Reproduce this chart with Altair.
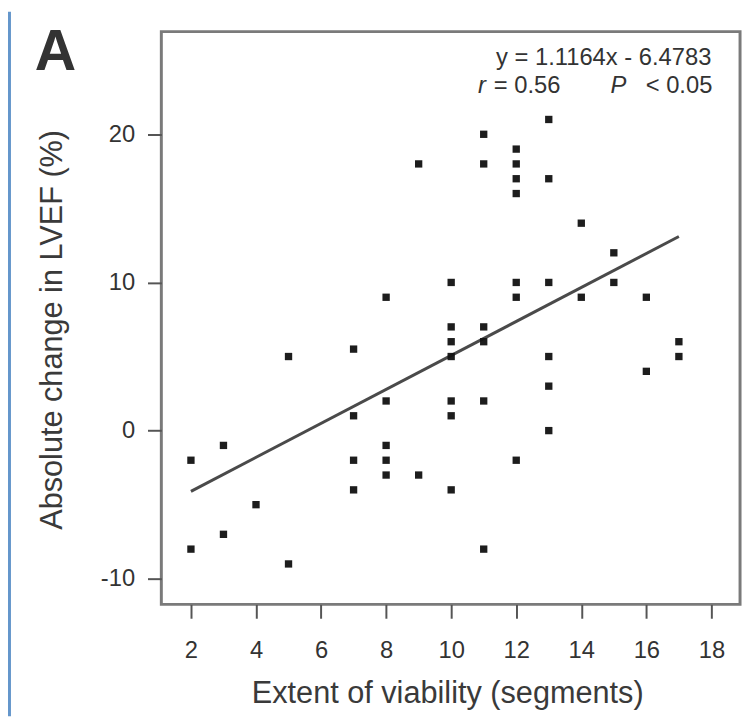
import altair as alt
import pandas as pd

# Scatter data
viab_x = [2, 2, 3, 3, 4, 5, 5, 7, 7, 7, 7, 8, 8, 8, 8, 8, 9, 9,
          10, 10, 10, 10, 10, 10, 10, 11, 11, 11, 11, 11, 11,
          12, 12, 12, 12, 12, 12, 12, 13, 13, 13, 13, 13, 13,
          14, 14, 15, 15, 16, 16, 17, 17]
lvef_y = [-2, -8, -1, -7, -5, 5, -9, 5.5, 1, -2, -4, 9, 2, -1, -2, -3, 18, -3,
          10, 7, 6, 5, 2, 1, -4, 20, 18, 7, 6, 2, -8,
          19, 18, 17, 16, 10, 9, -2, 21, 17, 10, 5, 3, 0,
          14, 9, 12, 10, 9, 4, 6, 5]

# Fitted line end points
fit_x = [2, 17]
fit_y = [-4.1, 13.1]

x_ticks = [2, 4, 6, 8, 10, 12, 14, 16, 18]
y_ticks = [-10, 0, 10, 20]

FONT = "Liberation Sans, Arial, Helvetica, sans-serif"
W, H = 585, 579

pts = pd.DataFrame({"x": viab_x, "y": lvef_y})
fit = pd.DataFrame({"x": fit_x, "y": fit_y})

xscale = alt.Scale(domain=[1.09, 18.88], nice=False, zero=False)
yscale = alt.Scale(domain=[-11.73, 26.93], nice=False, zero=False)

xaxis = alt.Axis(values=x_ticks, title="Extent of viability (segments)",
                 titleX=289, titleY=90, titleBaseline="middle", titleAlign="center",
                 labelPadding=21, tickSize=14)
yaxis = alt.Axis(values=y_ticks, title="Absolute change in LVEF (%)",
                 titleX=-110, titleY=301, titleAngle=270, titleBaseline="middle",
                 titleAlign="center", labelPadding=13, tickSize=14,
                 labelExpr="'' + datum.value")

points = alt.Chart(pts).mark_square(size=55, color="#111111", opacity=0.95).encode(
    x=alt.X("x:Q", scale=xscale, axis=xaxis),
    y=alt.Y("y:Q", scale=yscale, axis=yaxis),
)

line = alt.Chart(fit).mark_line(color="#4a4a4a", strokeWidth=3).encode(
    x=alt.X("x:Q", scale=xscale),
    y=alt.Y("y:Q", scale=yscale),
)

ann = pd.DataFrame({"t": [0]})


def txt(s, x, y, align="left", style="normal", size=24, weight="normal", baseline="middle"):
    return alt.Chart(ann).mark_text(
        text=s, align=align, baseline=baseline, fontSize=size, font=FONT,
        fontStyle=style, fontWeight=weight, color="#333333",
    ).encode(x=alt.value(x), y=alt.value(y))


texts = [
    txt("y = 1.1164x - 6.4783", 556, 27, align="right"),
    txt("r", 320, 55, style="italic"),
    txt("= 0.56", 336, 55),
    txt("P", 454, 55, style="italic"),
    txt("< 0.05", 557, 55, align="right"),
    txt("A", -128, 39, size=58, weight="bold", baseline="alphabetic"),
]

strip = alt.Chart(ann).mark_rect(color="#6496cb").encode(
    x=alt.value(-155), x2=alt.value(-152), y=alt.value(-20), y2=alt.value(692)
)

chart = alt.layer(strip, line, points, *texts).properties(
    width=W, height=H,
    autosize=alt.AutoSizeParams(type="none"),
    padding={"left": 155, "top": 20, "right": 4, "bottom": 113},
    background="white",
).configure_view(
    stroke="#7a7a7a", strokeWidth=3
).configure_axis(
    domain=False, grid=False,
    tickColor="#555555", tickWidth=2,
    labelFont=FONT, labelFontSize=24, labelColor="#333333",
    titleFont=FONT, titleFontSize=31, titleColor="#3a3a3a", titleFontWeight="normal",
)

chart.save("out.html", embed_options={"renderer": "svg", "actions": False})
